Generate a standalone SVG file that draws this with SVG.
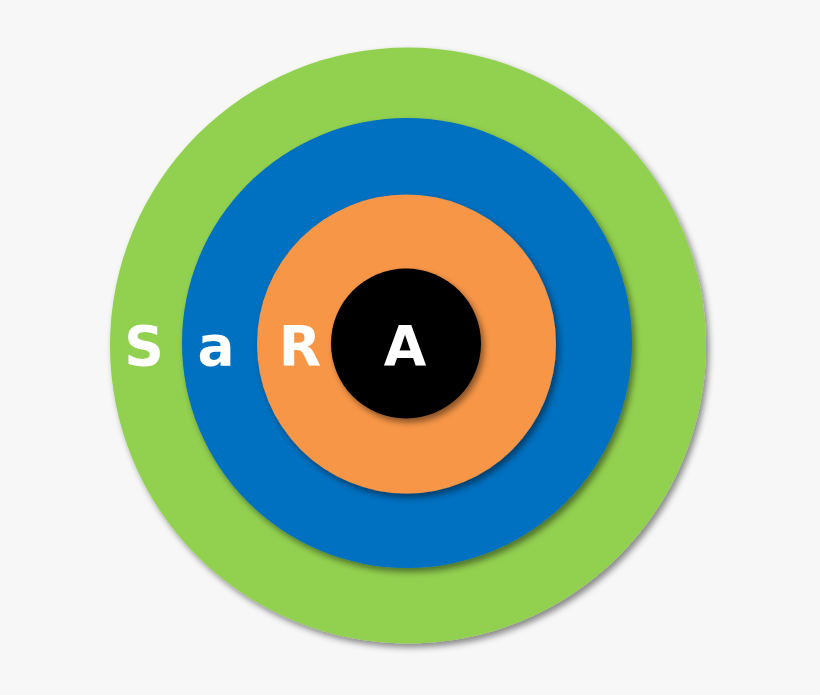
<svg xmlns="http://www.w3.org/2000/svg" width="820" height="695" viewBox="0 0 820 695">
<defs>
<filter id="sh" x="-20%" y="-20%" width="140%" height="140%">
<feDropShadow dx="3" dy="4" stdDeviation="3" flood-color="#000" flood-opacity="0.45"/>
</filter>
<style>
.ring{filter:url(#sh)}
.t{font-family:"DejaVu Sans",Verdana,sans-serif;font-weight:bold;font-size:55px;fill:#fff;text-anchor:middle}
</style>
</defs>
<rect width="820" height="695" fill="#f7f7f7"/>
<g id="ring-S"><circle class="ring" cx="408" cy="345.5" r="298" fill="#92d050"/></g>
<g id="ring-a"><circle class="ring" cx="407" cy="343" r="225" fill="#0070c0"/></g>
<g id="ring-R"><circle class="ring" cx="406.5" cy="344" r="149.5" fill="#f79646"/></g>
<g id="ring-A"><circle class="ring" cx="406" cy="343.5" r="75" fill="#000"/></g>
<g id="labels">
<text class="t" x="144" y="365">S</text>
<text class="t" x="216" y="365">a</text>
<text class="t" x="300" y="365">R</text>
<text class="t" x="405" y="365">A</text>
</g>
</svg>
